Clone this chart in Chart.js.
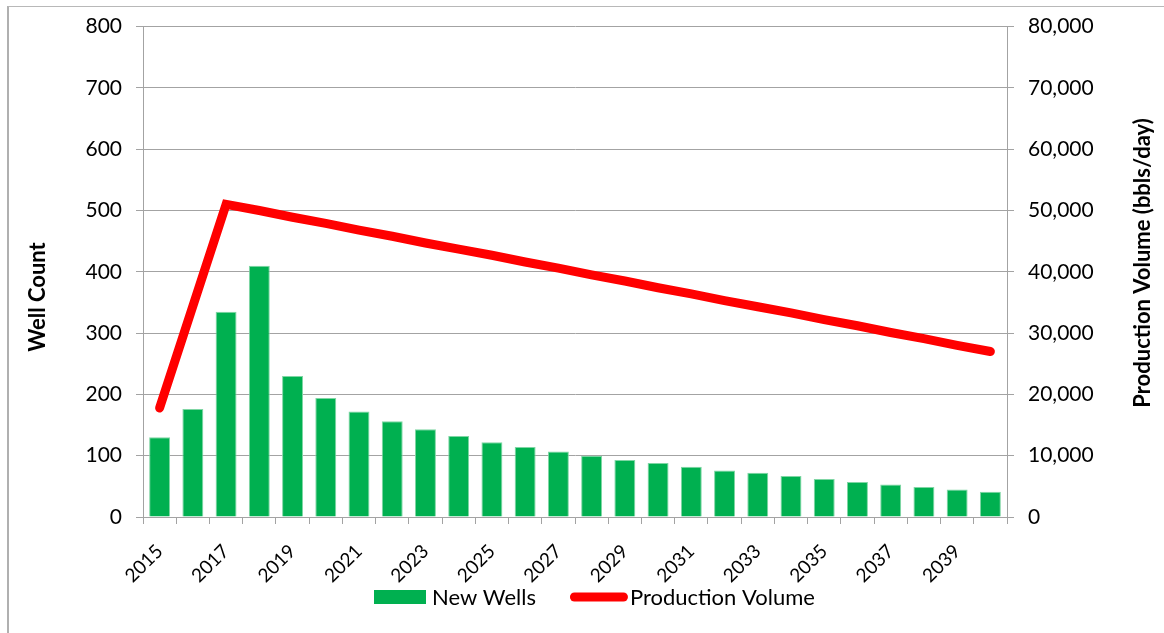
<!DOCTYPE html>
<html>
<head>
<meta charset="utf-8">
<script src="https://cdn.jsdelivr.net/npm/chart.js@4/dist/chart.umd.min.js"></script>
<style>
  html, body { margin: 0; padding: 0; background: #fff; }
  #wrap { position: relative; width: 1164px; height: 633px; overflow: hidden; }
  #frame {
    position: absolute; left: 7px; top: 6px; width: 1200px; height: 700px;
    border-top: 1px solid #b8b8b8; border-left: 2px solid #b0b0b0;
    pointer-events: none;
  }
</style>
</head>
<body>
<div id="wrap">
  <canvas id="chart" width="1164" height="633"></canvas>
  <div id="frame"></div>
</div>
<script>
// Years on the category axis
const years = ['2015','2016','2017','2018','2019','2020','2021','2022','2023','2024','2025','2026','2027',
               '2028','2029','2030','2031','2032','2033','2034','2035','2036','2037','2038','2039','2040'];

// New wells drilled per year (left axis)
const newWells = [130, 176, 335, 410, 230, 194, 172, 156, 143, 132, 122, 114, 107,
                  100, 93, 88, 82, 76, 72, 67, 62, 57, 53, 49, 45, 41];

// Production volume, bbls/day (right axis)
const production = [17800, 34400, 51000, 50000, 48900, 47900, 46800, 45800, 44700, 43700, 42700, 41600, 40600,
                    39500, 38500, 37400, 36400, 35300, 34300, 33300, 32200, 31200, 30100, 29100, 28000, 27000];

const leftTitle = 'Well Count';
const rightTitle = 'Production Volume (bbls/day)';

const FONT = 'Lato, "Open Sans", sans-serif';
const GRID = '#a3a3a3';
const X_AXIS_HEIGHT = 72;

// axis titles drawn by hand so the right one reads bottom-to-top like the left one
const axisTitles = {
  id: 'axisTitles',
  afterDraw(chart) {
    const { ctx, chartArea } = chart;
    const draw = (text, x, y) => {
      ctx.save();
      ctx.font = 'bold 22px ' + FONT;
      ctx.fillStyle = '#000';
      ctx.textAlign = 'center';
      ctx.textBaseline = 'middle';
      ctx.translate(x, y);
      ctx.rotate(-Math.PI / 2);
      ctx.fillText(text, 0, 0);
      ctx.restore();
    };
    draw(leftTitle, chartArea.left - 105, 297);
    draw(rightTitle, chartArea.right + 136, 263);
  }
};

// legend row under the axis: filled swatch for the bars, thick stroke for the line
const bottomLegend = {
  id: 'bottomLegend',
  afterDraw(chart) {
    const { ctx } = chart;
    const [bars, line] = chart.data.datasets;
    const y = 597;
    ctx.save();
    ctx.font = '22px ' + FONT;
    ctx.textBaseline = 'middle';
    ctx.fillStyle = '#000';
    const w1 = ctx.measureText(bars.label).width;
    let x = 374;

    ctx.fillStyle = bars.backgroundColor;
    ctx.fillRect(x, y - 7, 52, 14);
    x += 58;
    ctx.fillStyle = '#000';
    ctx.fillText(bars.label, x, y + 1);
    x += w1 + 34;

    ctx.strokeStyle = line.borderColor;
    ctx.lineWidth = line.borderWidth;
    ctx.lineCap = 'round';
    ctx.beginPath();
    ctx.moveTo(x + 4.5, y);
    ctx.lineTo(x + 58 - 4.5, y);
    ctx.stroke();
    x += 60;
    ctx.fillText(line.label, x, y + 1);
    ctx.restore();
  }
};

new Chart(document.getElementById('chart'), {
  data: {
    labels: years,
    datasets: [
      {
        type: 'bar',
        label: 'New Wells',
        data: newWells,
        yAxisID: 'y',
        backgroundColor: '#00b050',
        borderColor: '#7fd6a4',
        borderWidth: 1,
        categoryPercentage: 1,
        barPercentage: 0.63
      },
      {
        type: 'line',
        label: 'Production Volume',
        data: production,
        yAxisID: 'y1',
        borderColor: '#ff0000',
        backgroundColor: '#ff0000',
        borderWidth: 9,
        borderCapStyle: 'round',
        borderJoinStyle: 'miter',
        pointRadius: 0,
        tension: 0
      }
    ]
  },
  plugins: [axisTitles, bottomLegend],
  options: {
    responsive: false,
    animation: false,
    layout: { padding: { top: 25, bottom: 633 - 517 - X_AXIS_HEIGHT, left: 0, right: 0 } },
    plugins: {
      tooltip: { enabled: false },
      legend: { display: false }
    },
    scales: {
      x: {
        offset: true,
        grid: { offset: true, drawOnChartArea: false, color: GRID, tickLength: 7 },
        border: { color: GRID },
        ticks: {
          autoSkip: false,
          minRotation: 45,
          maxRotation: 45,
          padding: 16,
          color: '#000',
          font: { family: FONT, size: 19 },
          callback: (v, i) => (i % 2 === 0 ? years[i] : '')
        },
        afterFit: s => { s.height = X_AXIS_HEIGHT; }
      },
      y: {
        position: 'left',
        min: 0, max: 800,
        ticks: { stepSize: 100, padding: 14, color: '#000', font: { family: FONT, size: 21 } },
        grid: { color: GRID, tickLength: 7 },
        border: { color: GRID },
        afterFit: s => { s.width = 143; }
      },
      y1: {
        position: 'right',
        min: 0, max: 80000,
        ticks: {
          stepSize: 10000, padding: 14, color: '#000', font: { family: FONT, size: 21 },
          callback: v => v.toLocaleString('en-US')
        },
        grid: { drawOnChartArea: false, color: GRID, tickLength: 7 },
        border: { color: GRID },
        afterFit: s => { s.width = 157; }
      }
    }
  }
});
</script>
</body>
</html>
